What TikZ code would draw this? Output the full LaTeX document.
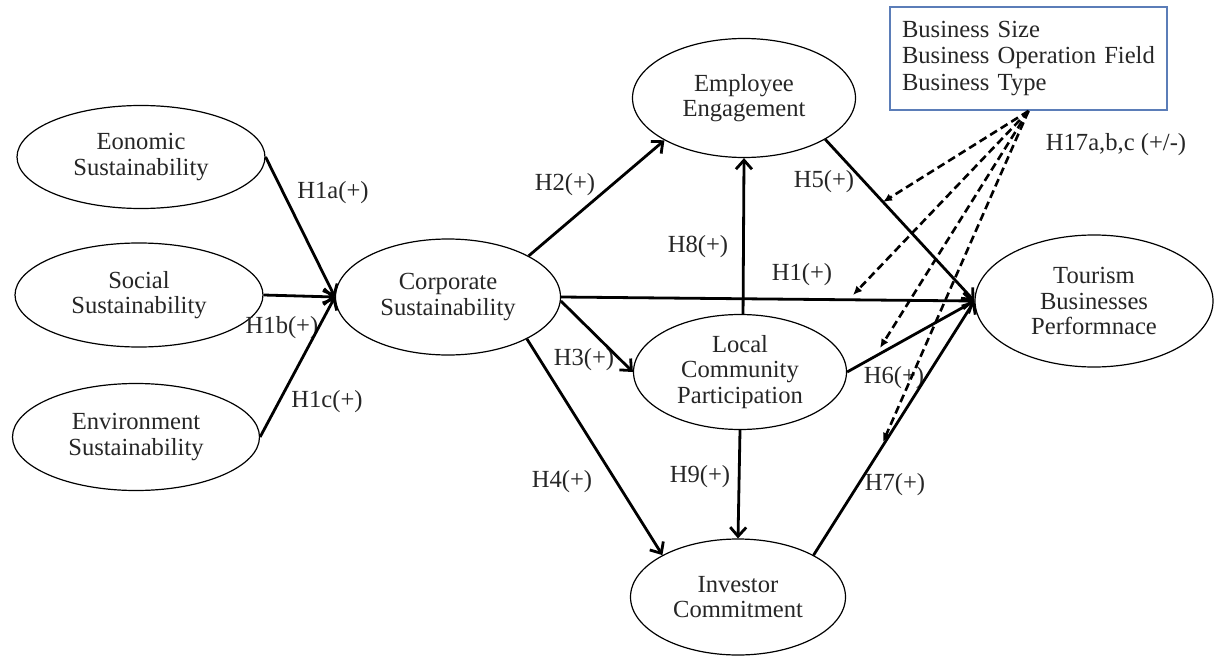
\documentclass[tikz,border=0pt]{standalone}
\usepackage{fontspec}
\setmainfont{Liberation Serif}
\usetikzlibrary{shapes,arrows.meta}
\definecolor{boxblue}{RGB}{91,125,184}

\begin{document}
\begin{tikzpicture}[x=0.5pt,y=-0.5pt,
        var/.style={ellipse,draw,line width=0.6pt,inner sep=0pt,align=center,text=black!85,font=\fontsize{12.3}{12.6}\selectfont},
        causal/.style={line width=1.4pt,-{Straight Barb[length=4.5pt,width=8pt]}},
        moder/.style={line width=1.3pt,dash pattern=on 4pt off 2.2pt,-{Latex[length=4.5pt,width=4pt]}},
        hyp/.style={inner sep=0pt,text=black!85,font=\fontsize{12.3}{12.6}\selectfont}]
        \useasboundingbox (0,0) rectangle (1214,658);

        \node[var,minimum width=124pt,minimum height=51.5pt] (Eco) at (141,157) {Eonomic\\Sustainability};
        \node[var,minimum width=124pt,minimum height=52pt] (Soc) at (139,295) {Social\\Sustainability};
        \node[var,minimum width=123.5pt,minimum height=53.5pt] (Env) at (136,437) {Environment\\Sustainability};
        \node[var,minimum width=112.5pt,minimum height=58pt] (Corp) at (448,297) {Corporate\\Sustainability};
        \node[var,minimum width=111.5pt,minimum height=59.5pt] (Emp) at (744,98) {Employee\\Engagement};
        \node[var,minimum width=106.5pt,minimum height=57.5pt] (Loc) at (740,372) {Local\\Community\\Participation};
        \node[var,minimum width=107.5pt,minimum height=58pt] (Inv) at (738,597) {Investor\\Commitment};
        \node[var,minimum width=119pt,minimum height=66pt] (Tour) at (1094,301) {Tourism\\Businesses\\Performnace};

        \node[draw=boxblue,line width=1pt,minimum width=138.5pt,minimum height=51.5pt,text width=126.5pt,inner xsep=6pt,align=left,text=black!85,font=\fontsize{12.3}{13.3}\selectfont] (Ctrl) at (1028.5,58.5) {Business Size\\Business Operation Field\\Business Type};

        \node[hyp] (h1a) at (333,193) {H1a(+)};
        \node[hyp] (h1b) at (282,328) {H1b(+)};
        \node[hyp] (h1c) at (327,402) {H1c(+)};
        \node[hyp] (h2) at (565,185) {H2(+)};
        \node[hyp] (h8) at (698,247) {H8(+)};
        \node[hyp] (h5) at (824,182) {H5(+)};
        \node[hyp] (h1) at (802,275) {H1(+)};
        \node[hyp] (h3) at (584,360) {H3(+)};
        \node[hyp] (h6) at (894,378) {H6(+)};
        \node[hyp] (h4) at (562,482) {H4(+)};
        \node[hyp] (h9) at (700,477) {H9(+)};
        \node[hyp] (h7) at (895,485) {H7(+)};
        \node[hyp] (h17) at (1116,145) {H17a,b,c (+/-)};

        \coordinate (m1) at (883,202);
        \coordinate (m2) at (853,295);
        \coordinate (m3) at (880,348);
        \coordinate (m4) at (883,442);

        \draw[causal] (Eco.east) -- (Corp.west);
        \draw[causal] (Soc.east) -- (Corp.west);
        \draw[causal] (Env.east) -- (Corp.west);
        \draw[causal] (Corp.27) -- (Emp.208);
        \draw[causal] (Corp.east) -- (Tour.west);
        \draw[causal] (Corp.-2) -- (Loc.west);
        \draw[causal] (Corp.-28) -- (Inv.151);
        \draw[causal] (Loc.87) -- (Emp.south);
        \draw[causal] (Loc.south) -- (Inv.north);
        \draw[causal] (Emp.-27) -- (Tour.west);
        \draw[causal] (Loc.east) -- (Tour.west);
        \draw[causal] (Inv.29) -- (Tour.west);

        \foreach \m in {m1,m2,m3,m4}
          \draw[moder] (Ctrl.south) -- (\m);
      \end{tikzpicture}
\end{document}
